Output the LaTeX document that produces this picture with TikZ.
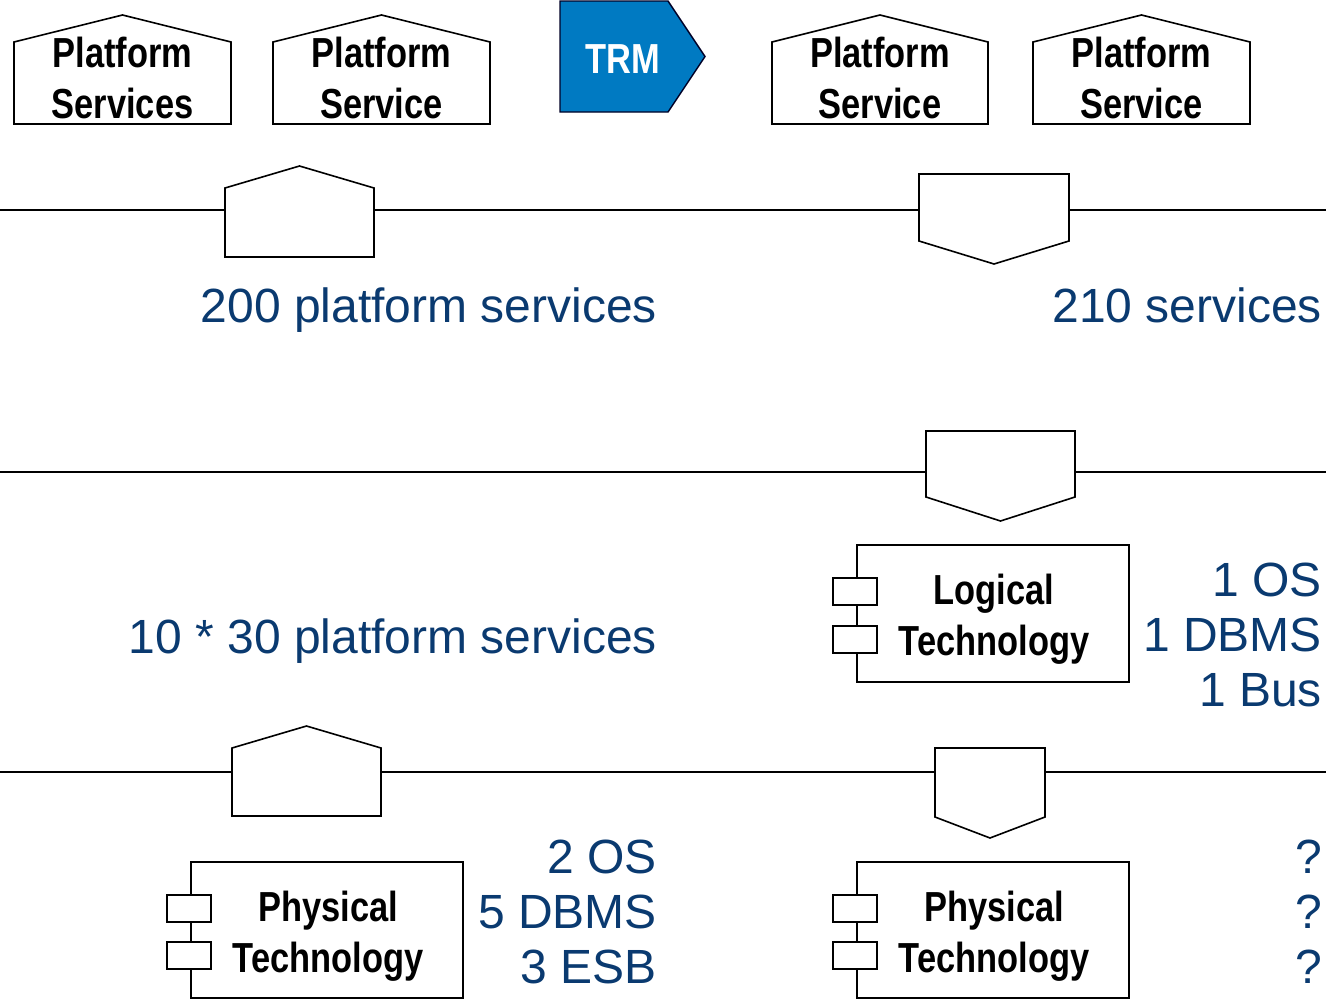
\documentclass[tikz,border=0pt]{standalone}
\usepackage{fontspec}
\setmainfont{Liberation Sans}
\newfontfamily\condb[FakeStretch=0.82]{Liberation Sans Bold}
\usetikzlibrary{calc}
\definecolor{navy}{RGB}{10,58,112}
\definecolor{trmblue}{RGB}{0,122,194}
\newcommand\houseshape[2]{\draw[outl] (#1.south west) -- (#1.north west) -- ($(#1.north)+(0,-#2)$) -- (#1.north east) -- (#1.south east) -- cycle;}
\newcommand\downshape[2]{\draw[outl] (#1.north west) -- (#1.south west) -- ($(#1.south)+(0,#2)$) -- (#1.south east) -- (#1.north east) -- cycle;}
\begin{document}
\begin{tikzpicture}[x=1pt,y=-1pt,
  outl/.style={draw=black, fill=white, line width=1.6pt, line join=miter},
  body/.style={inner sep=0pt, outer sep=0pt, draw=none},
  bus/.style={draw=black, line width=2pt},
  lbl/.style={inner sep=0pt, outer sep=0pt, align=center, font={\condb\fontsize{42}{51}\selectfont}},
  num/.style={inner sep=0pt, outer sep=0pt, text=navy, font={\fontsize{48}{55}\selectfont}},
  port/.style={draw=black, fill=white, line width=1.6pt, minimum width=44pt, minimum height=27pt, inner sep=0pt, outer sep=0pt},
  comp/.style={draw=black, fill=white, line width=1.6pt, minimum width=272pt, minimum height=136pt, inner sep=0pt, outer sep=0pt}]
\useasboundingbox[fill=white] (0,0) rectangle (1326,1002);

% top row
\node[body, minimum width=217pt, minimum height=82pt] (ps1) at (122.5,83) {};
\node[body, minimum width=217pt, minimum height=82pt] (ps2) at (381.5,83) {};
\node[body, minimum width=216pt, minimum height=82pt] (ps3) at (880,83) {};
\node[body, minimum width=217pt, minimum height=82pt] (ps4) at (1141.5,83) {};
\houseshape{ps1}{27}\houseshape{ps2}{27}\houseshape{ps3}{27}\houseshape{ps4}{27}
\node[lbl, anchor=north] (t1) at (122.5,37) {Platform\\Services};
\node[lbl, anchor=north] (t2) at (381.5,37) {Platform\\Service};
\node[lbl, anchor=north] (t3) at (880,37) {Platform\\Service};
\node[lbl, anchor=north] (t4) at (1141.5,37) {Platform\\Service};

\node[body, minimum width=108pt, minimum height=111pt] (trm) at (614,56.5) {};
\draw[fill=trmblue, draw=black!85!blue, line width=1.4pt] (trm.south west) -- (trm.north west) -- (trm.north east) -- ($(trm.east)+(37,0)$) -- (trm.south east) -- cycle;
\node[lbl, text=white, anchor=base] (trmt) at (623,73) {TRM};

% line 1
\coordinate (l1a) at (0,210);
\coordinate (l1b) at (1326,210);
\node[body, minimum width=149pt, minimum height=69pt] (h1) at (299.5,222.5) {};
\node[body, minimum width=150pt, minimum height=67pt] (d1) at (994,207.5) {};
\draw[bus] (l1a) -- (h1.west |- l1a);
\draw[bus] (h1.east |- l1a) -- (d1.west |- l1a);
\draw[bus] (d1.east |- l1a) -- (l1b);
\houseshape{h1}{22}
\downshape{d1}{23}
\node[num, anchor=base east] (n1) at (657,322) {200 platform services};
\node[num, anchor=base east] (n2) at (1322,322) {210 services};

% line 2
\coordinate (l2a) at (0,472);
\coordinate (l2b) at (1326,472);
\node[body, minimum width=149pt, minimum height=66pt] (d2) at (1000.5,464) {};
\draw[bus] (l2a) -- (d2.west |- l2a);
\draw[bus] (d2.east |- l2a) -- (l2b);
\downshape{d2}{24}

\node[comp, minimum height=137pt] (lt) at (993,613.5) {};
\node[port] (lp1) at ($(lt.north west)+(-2,46.5)$) {};
\node[port] (lp2) at ($(lt.north west)+(-2,94.5)$) {};
\node[lbl, anchor=north] (ltt) at (994,574) {Logical\\Technology};
\node[num, anchor=north east, align=right] (n3) at (1322,563) {1 OS\\1 DBMS\\1 Bus};
\node[num, anchor=base east] (n4) at (657,653) {10 * 30 platform services};

% line 3
\coordinate (l3a) at (0,772);
\coordinate (l3b) at (1326,772);
\node[body, minimum width=149pt, minimum height=68pt] (h3) at (306.5,782) {};
\node[body, minimum width=110pt, minimum height=69pt] (d3) at (990,782.5) {};
\draw[bus] (l3a) -- (h3.west |- l3a);
\draw[bus] (h3.east |- l3a) -- (d3.west |- l3a);
\draw[bus] (d3.east |- l3a) -- (l3b);
\houseshape{h3}{22}
\downshape{d3}{21}

\node[comp] (pt1) at (327,930) {};
\node[port] (pp1) at ($(pt1.north west)+(-2,46.5)$) {};
\node[port] (pp2) at ($(pt1.north west)+(-2,93.5)$) {};
\node[lbl, anchor=north] (pt1t) at (328,891) {Physical\\Technology};
\node[num, anchor=north east, align=right] (n5) at (657,840) {2 OS\\5 DBMS\\3 ESB};

\node[comp] (pt2) at (993,930) {};
\node[port] (pq1) at ($(pt2.north west)+(-2,46.5)$) {};
\node[port] (pq2) at ($(pt2.north west)+(-2,93.5)$) {};
\node[lbl, anchor=north] (pt2t) at (994,891) {Physical\\Technology};
\node[num, anchor=north east, align=right] (n6) at (1322,840) {?\\?\\?};
\end{tikzpicture}
\end{document}
